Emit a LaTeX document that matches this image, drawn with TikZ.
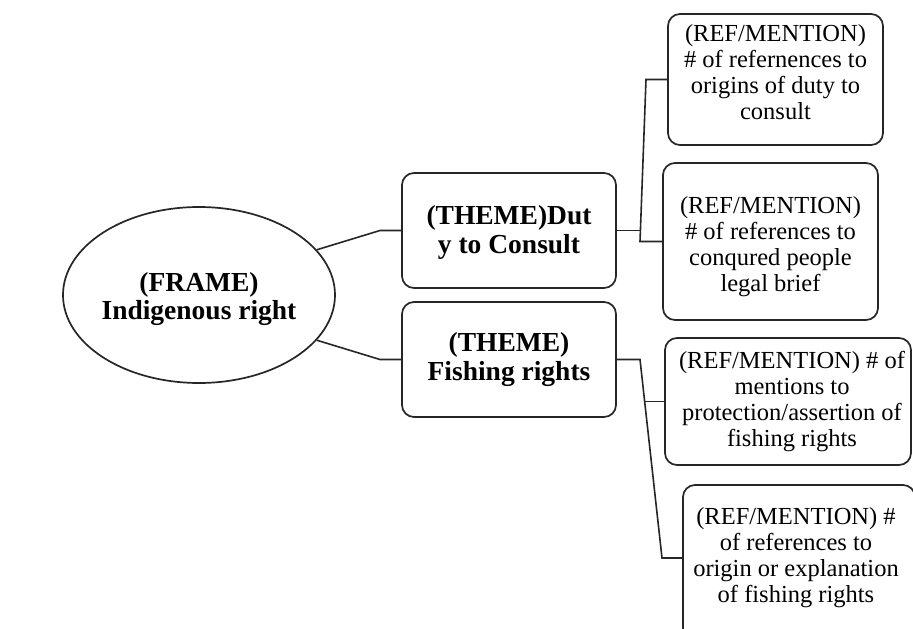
\documentclass[tikz,border=0pt]{standalone}
\usepackage{fontspec}
\setmainfont{Liberation Serif}
\usetikzlibrary{shapes.geometric}
\tikzset{
  box/.style={draw=black!85, line width=1.7pt, rounded corners=12pt, fill=white, inner sep=0pt},
  themetext/.style={align=center, inner sep=0pt, font=\fontsize{27.5}{28.5}\selectfont\bfseries},
  reftext/.style={align=center, inner sep=0pt, font=\fontsize{24.5}{26}\selectfont},
  frame/.style={draw=black!85, line width=1.7pt, ellipse, fill=white, inner sep=0pt},
  link/.style={draw=black!85, line width=1.6pt}
}
\begin{document}
\begin{tikzpicture}[x=1pt,y=-1pt]
\useasboundingbox (0,0) rectangle (913,629);
\clip (0,0) rectangle (913,629);
\fill[white] (0,0) rectangle (913,629);

\node[frame, minimum width=272pt, minimum height=176pt] (fr) at (199,295) {};
\node[themetext] (frtxt) at ([yshift=-4pt]fr.center) {(FRAME)\\Indigenous right};

\node[box, minimum width=214pt, minimum height=115pt] (t1) at (509,230.5) {};
\node[themetext] (t1txt) at ([yshift=-2pt]t1.center) {(THEME)Dut\\y to Consult};
\node[box, minimum width=214pt, minimum height=115pt] (t2) at (509,359.5) {};
\node[themetext] (t2txt) at (t2.center) {(THEME)\\Fishing rights};

\node[box, minimum width=215pt, minimum height=131pt] (r1) at (775.5,79.5) {};
\node[reftext] (r1txt) at ([yshift=7pt]r1.center) {(REF/MENTION)\\\# of refernences to\\origins of duty to\\consult};
\node[box, minimum width=215pt, minimum height=157pt] (r2) at (770.5,241.5) {};
\node[reftext] (r2txt) at ([yshift=-5pt]r2.center) {(REF/MENTION)\\\# of references to\\conqured people\\legal brief};
\node[box, minimum width=246pt, minimum height=127pt] (r3) at (788,401.5) {};
\node[reftext] (r3txt) at ([xshift=4pt]r3.center) {(REF/MENTION) \# of\\mentions to\\protection/assertion of\\fishing rights};
\node[box, minimum width=232pt, minimum height=155pt] (r4) at (799,562.5) {};
\node[reftext] (r4txt) at ([xshift=-3pt,yshift=5pt]r4.center) {(REF/MENTION) \#\\of references to\\origin or explanation\\of fishing rights};

\draw[link] (fr.21) -- (380,230.5) -- (t1.west);
\draw[link] (fr.-21) -- (380,359.5) -- (t2.west);

\draw[link] (t1.east) -- (639.5,230.5);
\draw[link] (r1.west) -- (646,79.5) -- (640,241.5) -- (r2.west);

\draw[link] (t2.east) -- (640,359.5) -- (662,558) -- (r4.west |- 0,558);
\draw[link] (644.7,401.5) -- (r3.west);
\end{tikzpicture}
\end{document}
